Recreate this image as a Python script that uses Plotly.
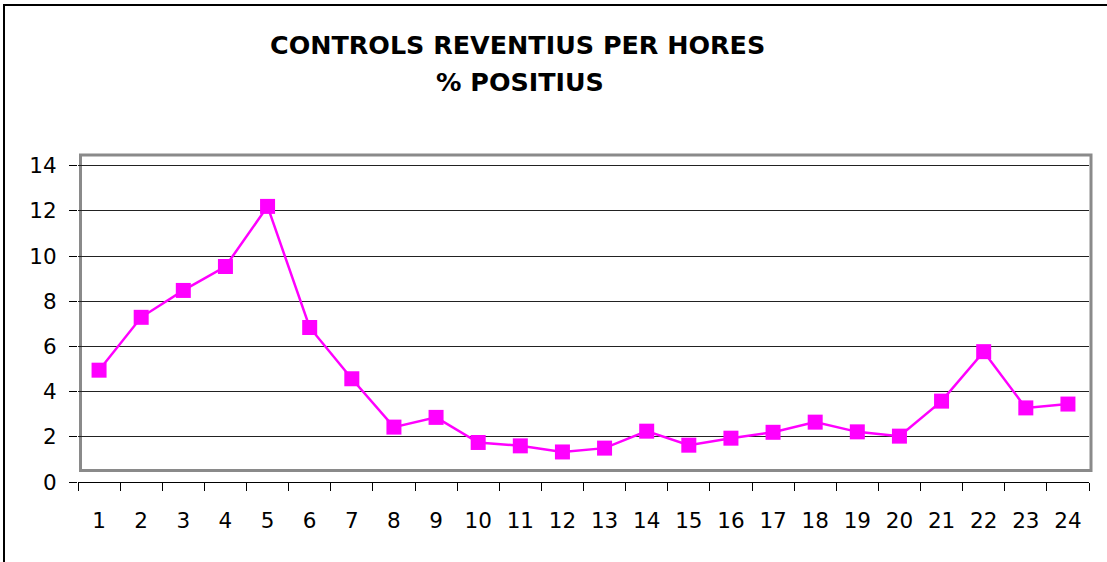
import plotly.graph_objects as go

hours = list(range(1, 25))
hour_labels = [str(h) for h in hours]
positius = [4.95, 7.29, 8.48, 9.54, 12.2, 6.84, 4.57, 2.43, 2.86, 1.75, 1.60, 1.33,
            1.50, 2.25, 1.63, 1.94, 2.20, 2.65, 2.22, 2.03, 3.58, 5.77, 3.28, 3.45]
y_ticks = [0, 2, 4, 6, 8, 10, 12, 14]
title_lines = ["CONTROLS REVENTIUS PER HORES", "% POSITIUS"]

W, H = 1107, 562
L, R, T, B = 78, 18, 154, 80
pw = W - L - R
ph = H - T - B
ppu = 22.59  # pixels per unit on y

def px_x(px):
    return (px - L) / pw

def px_y(py):
    return (H - B - py) / ph

fig = go.Figure()
fig.add_trace(go.Scatter(
    x=hours, y=positius, mode="lines+markers",
    line=dict(color="#FF00FF", width=2.5),
    marker=dict(symbol="square", size=15, color="#FF00FF"),
    showlegend=False, cliponaxis=False,
))

font = "DejaVu Sans, Arial, sans-serif"

fig.update_layout(
    width=W, height=H,
    margin=dict(l=L, r=R, t=T, b=B, pad=0),
    paper_bgcolor="white", plot_bgcolor="white",
    font=dict(family=font, color="black", size=21),
    xaxis=dict(
        range=[0.5, 24.5], tickmode="array", tickvals=hours, ticktext=hour_labels,
        ticks="", showgrid=False, zeroline=False,
        showline=True, linecolor="black", linewidth=1,
        ticklabelstandoff=19,
        tickfont=dict(size=21.5, family=font),
        minor=dict(tickmode="array", tickvals=[h + 0.5 for h in [0] + hours],
                   ticks="outside", ticklen=8, tickcolor="black", tickwidth=1, showgrid=False),
    ),
    yaxis=dict(
        range=[0, ph / ppu], tickmode="array", tickvals=y_ticks,
        ticks="outside", ticklen=8, tickcolor="black", tickwidth=1,
        showgrid=True, gridcolor="#222222", gridwidth=1,
        zeroline=False, showline=False,
        ticklabelstandoff=8,
        tickfont=dict(size=21.5, family=font),
    ),
    shapes=[
        dict(type="rect", xref="paper", yref="paper",
             x0=px_x(80.5), x1=px_x(1091), y0=px_y(470.5), y1=px_y(155),
             line=dict(color="#8a8a8a", width=3), fillcolor="rgba(0,0,0,0)", layer="between"),
        dict(type="rect", xref="paper", yref="paper",
             x0=px_x(4), x1=px_x(1120), y0=px_y(580), y1=px_y(5),
             line=dict(color="black", width=2), fillcolor="rgba(0,0,0,0)", layer="above"),
    ],
    annotations=[
        dict(text="<b>%s</b>" % title_lines[0], xref="paper", yref="paper",
             x=px_x(517), y=px_y(45), xanchor="center", yanchor="middle", showarrow=False,
             font=dict(size=25.4, family=font, color="black")),
        dict(text="<b>%s</b>" % title_lines[1], xref="paper", yref="paper",
             x=px_x(520), y=px_y(82), xanchor="center", yanchor="middle", showarrow=False,
             font=dict(size=25.4, family=font, color="black")),
    ],
)

fig.write_html("out.html", config={"displayModeBar": False},
               post_script="document.body.style.margin='0';")
